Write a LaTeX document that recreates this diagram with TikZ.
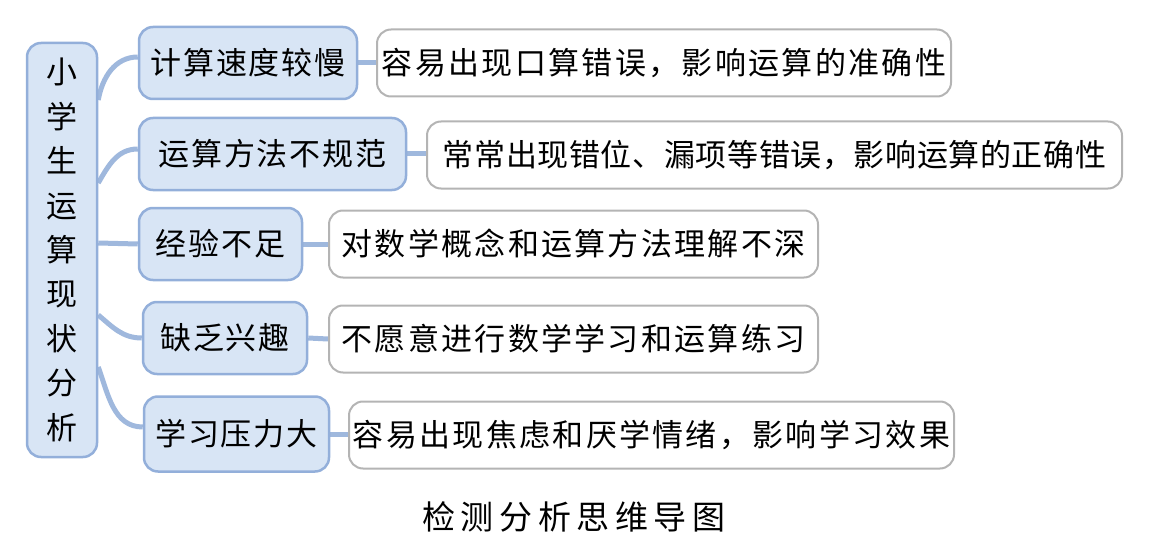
\documentclass[tikz,border=0pt]{standalone}
\usepackage{fontspec}
\usetikzlibrary{backgrounds}
\newfontfamily\cjk{Noto Sans CJK SC}[LetterSpace=6]
\newfontfamily\cjkleaf{Noto Sans CJK SC}[LetterSpace=7.5]
\newfontfamily\cjktight{Noto Sans CJK SC}[LetterSpace=2]
\newfontfamily\cjkcap{Noto Sans CJK SC}[LetterSpace=17]
\definecolor{fillc}{HTML}{D8E5F5}
\definecolor{bordc}{HTML}{93AFDA}
\definecolor{linkc}{HTML}{9FB8DD}
\definecolor{leafc}{HTML}{B4B4B4}
\begin{document}
\begin{tikzpicture}[x=1pt,y=-1pt,
  rootbox/.style={draw=bordc, fill=fillc, line width=2.5pt, rounded corners=14pt,
    minimum width=70pt, minimum height=414pt, inner sep=0pt, align=center,
    font=\cjk\fontsize{31}{44.4}\selectfont},
  childbox/.style={draw=bordc, fill=fillc, line width=2.5pt, rounded corners=14pt,
    minimum height=72pt, inner sep=0pt, font=\cjk\fontsize{31}{34}\selectfont},
  leafbox/.style={draw=leafc, fill=white, line width=2pt, rounded corners=14pt,
    minimum height=67pt, inner sep=0pt, font=\cjkleaf\fontsize{31}{34}\selectfont},
  link/.style={draw=linkc, line width=5pt}]
\useasboundingbox (0,0) rectangle (1165,559);

\node[rootbox] (root) at (62,250) {小\\学\\生\\运\\算\\现\\状\\分\\析};

\node[childbox, minimum width=218pt] (c1) at (248,63) {计算速度较慢};
\node[childbox, minimum width=267pt] (c2) at (272.5,154) {运算方法不规范};
\node[childbox, minimum width=163pt] (c3) at (220.5,244) {经验不足};
\node[childbox, minimum width=164pt] (c4) at (225,338) {缺乏兴趣};
\node[childbox, minimum width=185pt, minimum height=75pt] (c5) at (236.5,434) {学习压力大};

\node[leafbox, minimum width=574pt] (l1) at (664,63) {容易出现口算错误，影响运算的准确性};
\node[leafbox, minimum width=695pt, font=\cjktight\fontsize{31}{34}\selectfont] (l2) at (774.5,155) {常常出现错位、漏项等错误，影响运算的正确性};
\node[leafbox, minimum width=489pt] (l3) at (573.5,244) {对数学概念和运算方法理解不深};
\node[leafbox, minimum width=489pt] (l4) at (573.5,339) {不愿意进行数学学习和运算练习};
\node[leafbox, minimum width=605pt] (l5) at (651.5,435) {容易出现焦虑和厌学情绪，影响学习效果};

\node[font=\cjkcap\fontsize{33}{36}\selectfont] (cap) at (574,517) {检测分析思维导图};

\begin{scope}[on background layer]
  \draw[link] ([yshift=150pt]root.east) to[out=80,in=180] ([yshift=6pt]c1.west);
  \draw[link] ([yshift=67pt]root.east) to[out=60,in=180] ([yshift=5pt]c2.west);
  \draw[link] ([yshift=7pt]root.east) -- (c3.west);
  \draw[link] ([yshift=-65pt]root.east) to[out=-40,in=180] (c4.west);
  \draw[link] ([yshift=-117pt]root.east) to[out=-70,in=180] ([yshift=7pt]c5.west);
  \draw[link] (c1.east) -- (l1.west);
  \draw[link] (c2.east) -- (c2.east -| l2.west);
  \draw[link] (c3.east) -- (l3.west);
  \draw[link] (c4.east) -- (l4.west);
  \draw[link] (c5.east) -- (c5.east -| l5.west);
\end{scope}
\end{tikzpicture}
\end{document}
